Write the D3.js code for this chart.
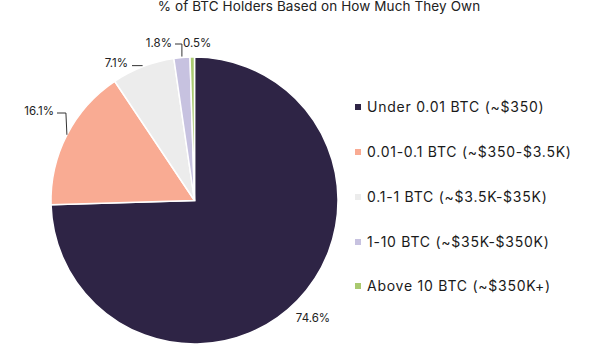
<!DOCTYPE html>
<html><head><meta charset="utf-8">
<script src="https://cdn.jsdelivr.net/npm/d3@7"></script>
<style>body{margin:0;background:#fff;} svg{display:block;font-family:Inter, "Open Sans", sans-serif;}</style>
</head><body>
<svg id="c" width="590" height="354"></svg>
<script>
const categories = ["Under 0.01 BTC (~$350)", "0.01-0.1 BTC (~$350-$3.5K)", "0.1-1 BTC (~$3.5K-$35K)", "1-10 BTC (~$35K-$350K)", "Above 10 BTC (~$350K+)"];
const values = [74.6, 16.1, 7.1, 1.8, 0.5];
const valueLabels = ["74.6%", "16.1%", "7.1%", "1.8%", "0.5%"];
const colors = ["#2e2445", "#f9ab93", "#ececec", "#c7c2e0", "#a9c96f"];
const title = "% of BTC Holders Based on How Much They Own";

const svg = d3.select("#c");
const cx = 194.5, cy = 200.5, r = 143.5;

svg.append("text").attr("x", 319).attr("y", 10.5).attr("text-anchor", "middle")
  .attr("font-size", 13.5).attr("letter-spacing", 0.1).attr("fill", "#222").text(title);

const pie = d3.pie().sort(null).value(d => d);
const arcs = pie(values);
const arc = d3.arc().innerRadius(0).outerRadius(r);
const g = svg.append("g").attr("transform", `translate(${cx},${cy})`);
g.selectAll("path").data(arcs).join("path")
  .attr("d", arc).attr("fill", (d, i) => colors[i])
  .attr("stroke", "#fff").attr("stroke-width", 1.5);

const lblFont = 11.5;
function pt(a, rr) { return [cx + rr * Math.sin(a), cy - rr * Math.cos(a)]; }
const mid = arcs.map(d => (d.startAngle + d.endAngle) / 2);

svg.append("text").attr("x", 313).attr("y", 322).attr("text-anchor", "middle")
  .attr("font-size", lblFont).attr("fill", "#222").text(valueLabels[0]);
{
  const e = pt(mid[1], r);
  svg.append("path").attr("d", `M${e[0]},${e[1]} L${e[0] - 1},113 L57,113`)
    .attr("fill", "none").attr("stroke", "#333").attr("stroke-width", 1);
  svg.append("text").attr("x", 54).attr("y", 115).attr("text-anchor", "end")
    .attr("font-size", lblFont).attr("fill", "#222").text(valueLabels[1]);
}
{
  const e = pt(mid[2], r + 1);
  svg.append("path").attr("d", `M${e[0]},${e[1]} L132,${e[1]}`)
    .attr("fill", "none").attr("stroke", "#333").attr("stroke-width", 1);
  svg.append("text").attr("x", 128).attr("y", 67).attr("text-anchor", "end")
    .attr("font-size", lblFont).attr("fill", "#222").text(valueLabels[2]);
}
{
  const e = pt(mid[3], r);
  svg.append("path").attr("d", `M${e[0]},${e[1] - 1} L${e[0]},44 L175,44`)
    .attr("fill", "none").attr("stroke", "#333").attr("stroke-width", 1);
  svg.append("text").attr("x", 172).attr("y", 47).attr("text-anchor", "end")
    .attr("font-size", lblFont).attr("fill", "#222").text(valueLabels[3]);
  svg.append("text").attr("x", 183).attr("y", 47).attr("text-anchor", "start")
    .attr("font-size", lblFont).attr("fill", "#222").text(valueLabels[4]);
}

const lg = svg.append("g");
const rowY = [107, 152, 197, 242, 286];
categories.forEach((c, i) => {
  lg.append("rect").attr("x", 355).attr("y", rowY[i] - 3).attr("width", 6).attr("height", 6).attr("fill", colors[i]);
  lg.append("text").attr("x", 367).attr("y", rowY[i] + 5).attr("font-size", 14).attr("letter-spacing", 0.75)
    .attr("fill", "#1a1a1a").text(c);
});
</script>
</body></html>
